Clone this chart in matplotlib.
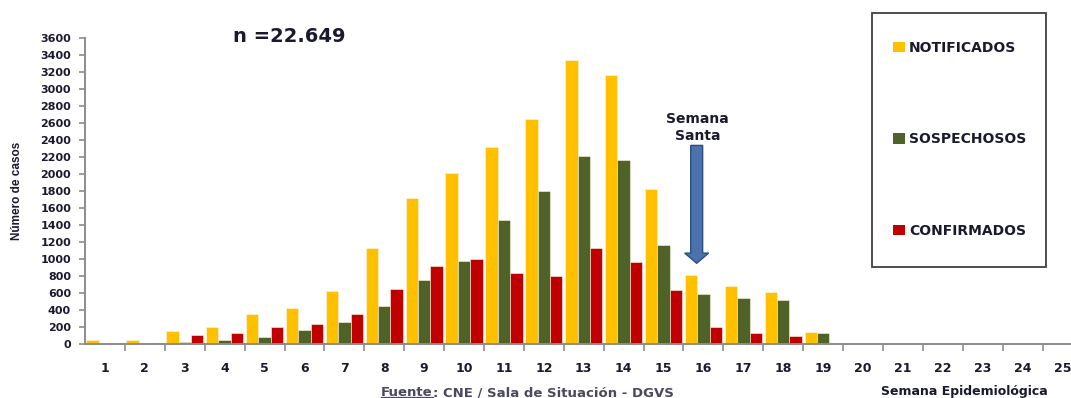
import matplotlib
matplotlib.use("Agg")
import matplotlib.pyplot as plt
from matplotlib.patches import Rectangle, FancyArrow
from matplotlib.lines import Line2D
import numpy as np

# Epidemiological weeks and weekly counts
weeks = list(range(1, 26))
notificados = [50, 50, 153, 204, 357, 431, 631, 1133, 1721, 2012, 2325, 2651,
               3349, 3173, 1831, 816, 690, 616, 141, 0, 0, 0, 0, 0, 0]
sospechosos = [0, 15, 30, 55, 90, 168, 267, 455, 757, 980, 1459, 1808,
               2212, 2169, 1169, 592, 545, 518, 129, 0, 0, 0, 0, 0, 0]
confirmados = [15, 15, 106, 129, 204, 239, 353, 655, 918, 1004, 843, 804,
               1133, 969, 643, 204, 129, 94, 0, 0, 0, 0, 0, 0, 0]
series_names = ["NOTIFICADOS", "SOSPECHOSOS", "CONFIRMADOS"]
series_colors = ["#FFC000", "#4F6228", "#C00000"]
y_ticks = list(range(0, 3601, 200))

total_label = "n =22.649"
holiday_label = "Semana\nSanta"
holiday_week = 15.83
arrow_top, arrow_tip = 2340, 953

W, H = 1071, 398
fig = plt.figure(figsize=(W / 100, H / 100), dpi=100)
ax = fig.add_axes([85 / W, (H - 344.3) / H, 25 * 39.9 / W, 306 / H])

text_color = "#1a1a2e"
axis_color = "#8c8c8c"

x = np.array(weeks, dtype=float)
bw = 0.31
handles = []
for k, (vals, name, col) in enumerate(zip([notificados, sospechosos, confirmados],
                                          series_names, series_colors)):
    b = ax.bar(x + (k - 1) * bw, vals, width=bw, color=col, label=name,
               edgecolor="#fff6e0", linewidth=0.4, zorder=2)
    handles.append(b)

ax.set_xlim(0.5, 25.5)
ax.set_ylim(0, 3600)
ax.set_yticks(y_ticks)
ax.set_yticklabels([str(v) for v in y_ticks], fontsize=8, fontweight="bold",
                   color=text_color)
ax.set_xticks(weeks)
ax.set_xticklabels([str(w) for w in weeks], fontsize=9, fontweight="bold",
                   color=text_color)
ax.set_xticks(np.arange(1.5, 25.5, 1.0), minor=True)
ax.tick_params(axis="x", which="major", length=0, pad=12.5)
ax.tick_params(axis="x", which="minor", length=5, width=1.2, color=axis_color,
               direction="out")
ax.tick_params(axis="y", length=4.5, width=1.2, color=axis_color, pad=5.5)

for s in ["top", "right"]:
    ax.spines[s].set_visible(False)
for s in ["left", "bottom"]:
    ax.spines[s].set_color(axis_color)
    ax.spines[s].set_linewidth(1.4)
ax.patch.set_alpha(0)

fig.text(17 / W, 1 - 191 / H, "Número de casos", rotation=90, ha="center",
         va="center", fontsize=8.5, fontweight="bold",
         family="Liberation Sans", color=text_color)

fig.text(233 / W, 1 - 37 / H, total_label, ha="left", va="center",
         fontsize=14, fontweight="bold", color=text_color)

# Holiday marker
ax.text(holiday_week + 0.03, arrow_top + 30, holiday_label, ha="center",
        va="bottom", fontsize=10, fontweight="bold", color=text_color,
        linespacing=1.25)
arrow = FancyArrow(holiday_week, arrow_top, 0, arrow_tip - arrow_top,
                   width=0.3, head_width=0.6, head_length=120,
                   length_includes_head=True, facecolor="#4A72AC",
                   edgecolor="#2E4E80", linewidth=1.0, zorder=5)
ax.add_patch(arrow)

# Legend box
fig.patches.append(Rectangle((871.7 / W, 1 - 266.7 / H), (1046 - 871.7) / W,
                             (266.7 - 13.3) / H, transform=fig.transFigure,
                             facecolor="white", edgecolor="#404040",
                             linewidth=1.3, zorder=0))
leg = fig.legend(handles=handles, labels=series_names, loc="center left",
                 bbox_to_anchor=(893 / W, 1 - 139.3 / H), frameon=False,
                 prop={"size": 10, "weight": "bold"}, labelcolor=text_color,
                 handlelength=0.85, handleheight=0.75, handletextpad=0.3,
                 labelspacing=5.6, borderpad=0, borderaxespad=0)
for h in leg.legend_handles:
    h.set_edgecolor("none")

# Source note (with underlined "Fuente") and x-axis title
footer_color = "#4a4a5c"
fig.canvas.draw()
renderer = fig.canvas.get_renderer()
t1 = fig.text(381 / W, 1.8 / H, "Fuente", ha="left", va="baseline",
              fontsize=9.5, color=footer_color, fontweight="semibold")
bb = t1.get_window_extent(renderer=renderer)
fig.text(bb.x1 / W, 1.8 / H, ": CNE / Sala de Situación - DGVS", ha="left",
         va="baseline", fontsize=9.5, color=footer_color, fontweight="semibold")
fig.lines.append(Line2D([bb.x0 / W, bb.x1 / W], [0.8 / H, 0.8 / H],
                        transform=fig.transFigure, color=footer_color,
                        linewidth=0.9))

fig.text(964.7 / W, 1 - 392 / H, "Semana Epidemiológica", ha="center",
         va="center", fontsize=9, fontweight="bold", color=text_color)

fig.savefig("out.png", dpi=100)
